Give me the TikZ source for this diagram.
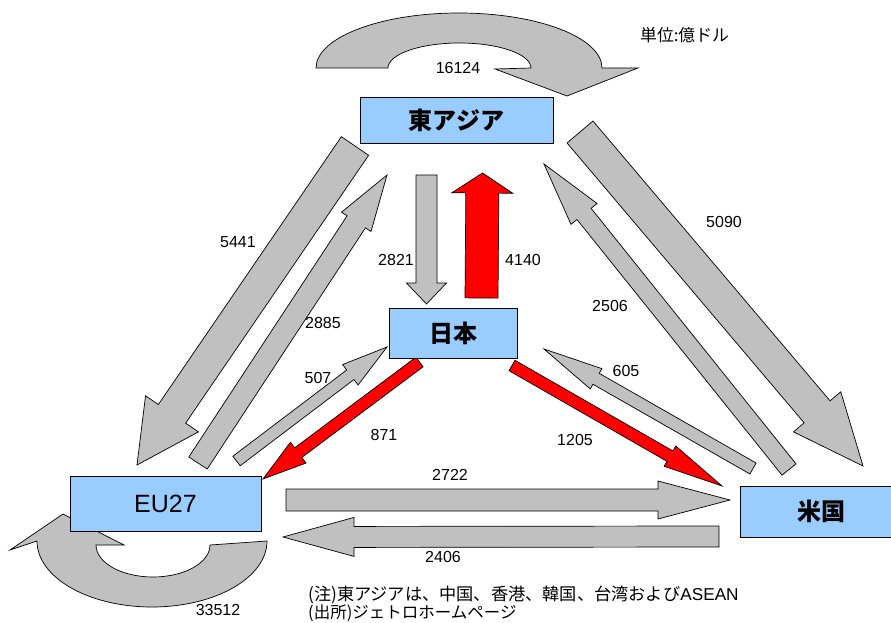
\documentclass[tikz,border=0pt]{standalone}
\usepackage{fontspec}
\setmainfont{Liberation Sans}
\newfontfamily\jp{Noto Sans CJK JP}
\usetikzlibrary{calc}
\definecolor{boxblue}{RGB}{153,204,255}
\definecolor{arrgray}{RGB}{192,192,192}
\definecolor{arrred}{RGB}{255,0,0}
\newcommand\blkarrow[6]{%
  \path ($(#3)!#6!(#2)$) coordinate (bh);
  \draw[#1] ($(#2)!#4!90:(#3)$) -- ($(bh)!#4!-90:(#2)$) -- ($(bh)!#5!-90:(#2)$) -- (#3)
    -- ($(bh)!#5!90:(#2)$) -- ($(bh)!#4!90:(#2)$) -- ($(#2)!#4!-90:(#3)$) -- cycle;
}
\tikzset{
  box/.style={draw=black, fill=boxblue, line width=0.8pt, inner sep=0pt},
  garr/.style={draw=black, fill=arrgray, line width=0.7pt, line join=miter},
  rarr/.style={draw=black, fill=arrred, line width=0.7pt, line join=miter},
  num/.style={font=\fontsize{16}{18}\selectfont, inner sep=0pt},
  big/.style={font=\jp\bfseries\fontsize{24}{28}\selectfont},
  note/.style={font=\jp\fontsize{16.5}{18}\selectfont, inner sep=0pt, anchor=west}
}
\begin{document}
\begin{tikzpicture}[x=1pt,y=-1pt]
\clip (0,0) rectangle (891,623);
\fill[white] (0,0) rectangle (891,623);

% endpoints of the block arrows
\coordinate (a5441s) at (355,146);   \coordinate (a5441e) at (137,465);
\coordinate (a2885s) at (198,463);   \coordinate (a2885e) at (387,175);
\coordinate (a507s)  at (236.5,461); \coordinate (a507e)  at (387,347);
\coordinate (a871s)  at (419.5,362); \coordinate (a871e)  at (263,479);
\coordinate (a2821s) at (426.5,175); \coordinate (a2821e) at (426.5,304);
\coordinate (a4140s) at (481.5,298); \coordinate (a4140e) at (482.5,173);
\coordinate (a5090s) at (580,132);   \coordinate (a5090e) at (863,466);
\coordinate (a2506s) at (789,469.5); \coordinate (a2506e) at (544,164);
\coordinate (a605s)  at (753,468.5); \coordinate (a605e)  at (544,349);
\coordinate (a1205s) at (512,365.5); \coordinate (a1205e) at (722,486);
\coordinate (a2722s) at (286,500);   \coordinate (a2722e) at (730,500);
\coordinate (a2406s) at (719,536.5); \coordinate (a2406e) at (283,537);

% self loops
\draw[garr] (316,68) arc[start angle=180, end angle=0, x radius=143pt, y radius=55pt]
  -- (638,68) -- (567,96) -- (495,69) -- (531,68)
  arc[start angle=0, end angle=180, x radius=71.5pt, y radius=25pt] -- cycle;
\draw[garr] (267,541) arc[start angle=0, end angle=-180, x radius=115pt, y radius=66pt]
  -- (10,550) -- (63,514) -- (124,545) -- (96,545)
  arc[start angle=180, end angle=360, x radius=57pt, y radius=32pt] -- cycle;

% block arrows
\blkarrow{garr}{a5441s}{a5441e}{16.5pt}{32pt}{62pt}
\blkarrow{garr}{a2885s}{a2885e}{11pt}{17.6pt}{56pt}
\blkarrow{garr}{a507s}{a507e}{6pt}{12.8pt}{46pt}
\blkarrow{rarr}{a871s}{a871e}{6pt}{13pt}{44pt}
\blkarrow{garr}{a2821s}{a2821e}{10.5pt}{20pt}{21pt}
\blkarrow{rarr}{a4140s}{a4140e}{16.5pt}{30.5pt}{20pt}
\blkarrow{garr}{a5090s}{a5090e}{17pt}{31pt}{71pt}
\blkarrow{garr}{a2506s}{a2506e}{9pt}{16.7pt}{64pt}
\blkarrow{garr}{a605s}{a605e}{6.3pt}{11.7pt}{60pt}
\blkarrow{rarr}{a1205s}{a1205e}{6pt}{11.7pt}{60pt}
\blkarrow{garr}{a2722s}{a2722e}{11pt}{19pt}{72pt}
\blkarrow{garr}{a2406s}{a2406e}{10.5pt}{19.5pt}{71pt}

% boxes
\node[box, minimum width=193pt, minimum height=46pt, big] (ea) at (456.5,120) {東アジア};
\node[box, minimum width=128pt, minimum height=50pt, big] (jp) at (453,333) {日本};
\node[box, minimum width=191pt, minimum height=55pt, font=\fontsize{25}{28}\selectfont] (eu) at (165.5,503.5) {EU27};
\node[box, minimum width=162pt, minimum height=51pt, big] (us) at (821,511.5) {米国};

% values
\node[num] (l16124) at (458,68) {16124};
\node[num] (l33512) at (218,610) {33512};
\node[num] (l5441) at (238,242) {5441};
\node[num] (l2885) at (323,323) {2885};
\node[num] (l507) at (318,378) {507};
\node[num] (l871) at (384,435) {871};
\node[num] (l2821) at (396,260) {2821};
\node[num] (l4140) at (523,260) {4140};
\node[num] (l5090) at (724,222) {5090};
\node[num] (l2506) at (610,306) {2506};
\node[num] (l605) at (626,371) {605};
\node[num] (l1205) at (575,440) {1205};
\node[num] (l2722) at (450,475) {2722};
\node[num] (l2406) at (443,557) {2406};

% notes
\node[note, font=\jp\fontsize{16.8}{18}\selectfont] (unit) at (640,35) {単位:億ドル};
\node[note, font=\jp\fontsize{17.2}{18}\selectfont] (n1) at (308,595) {(注)東アジアは、中国、香港、韓国、台湾および{\rmfamily ASEAN}};
\node[note] (n2) at (308,613) {(出所)ジェトロホームページ};
\end{tikzpicture}
\end{document}
